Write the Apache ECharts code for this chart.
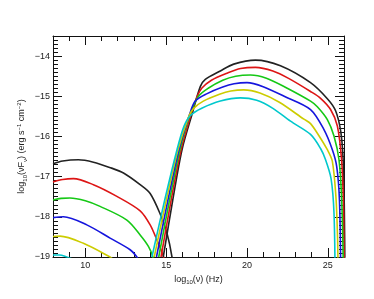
<!DOCTYPE html>
<html>
<head>
<meta charset="utf-8">
<script src="https://cdn.jsdelivr.net/npm/echarts@6/dist/echarts.min.js"></script>
<style>html,body{margin:0;padding:0;background:#fff}#c{width:374px;height:299px}</style>
</head>
<body>
<div id="c"></div>
<script>
// Tick labels
const xTickValues = [10, 15, 20, 25];
const yTickValues = [-19, -18, -17, -16, -15, -14];
const seriesColors = ['#222222', '#dd1515', '#15c815', '#1515dd', '#cccc00', '#00c8cc'];

// Synchrotron components [log nu, log nuFnu]
const blackSync = [[8,-16.68],[8.6,-16.61],[9.57,-16.58],[10.5,-16.64],[11.5,-16.77],[12.36,-16.91],[13.39,-17.2],[14.01,-17.42],[14.63,-17.93],[15.05,-18.41],[15.36,-19],[15.45,-19.4]];
const redSync = [[8,-17.13],[8.6,-17.07],[9.26,-17.05],[10.5,-17.2],[11.95,-17.49],[13.39,-17.85],[14.01,-18.2],[14.43,-18.58],[14.84,-19],[14.95,-19.3]];
const greenSync = [[8,-17.58],[8.5,-17.54],[9.05,-17.53],[10.0,-17.6],[10.91,-17.74],[12.57,-18.08],[13.39,-18.45],[13.91,-18.74],[14.18,-19],[14.3,-19.3]];
const blueSync = [[8,-18.02],[8.64,-18.0],[10.09,-18.2],[11.53,-18.53],[12.77,-18.82],[13.19,-19],[13.3,-19.1]];
const yellowSync = [[8,-18.49],[8.43,-18.48],[9.88,-18.66],[11.53,-19],[11.7,-19.05]];
const cyanSync = [[8,-18.95],[8.4,-18.95],[8.85,-19.0],[9.2,-19.05]];

// Inverse-Compton components [log nu, log nuFnu]
const blackIC = [[14.82,-19],[15.4,-17.6],[15.98,-16.33],[16.6,-15.45],[17.11,-14.76],[17.42,-14.58],[18.35,-14.37],[19.18,-14.2],[20.52,-14.1],[22.07,-14.24],[23.93,-14.66],[24.97,-15.06],[25.48,-15.36],[25.8,-15.88],[25.95,-16.6],[26.02,-17.8],[26.06,-19.5]];
const redIC = [[14.68,-19],[15.3,-17.6],[15.92,-16.33],[16.5,-15.5],[16.9,-15.02],[17.2,-14.8],[17.8,-14.6],[18.8,-14.42],[19.6,-14.31],[20.52,-14.28],[21.6,-14.37],[22.6,-14.56],[23.93,-14.88],[24.55,-15.05],[25.17,-15.33],[25.59,-15.74],[25.85,-16.58],[25.96,-17.6],[26.02,-19.5]];
const greenIC = [[14.54,-19],[15.2,-17.6],[15.85,-16.33],[16.48,-15.45],[17.0,-15.0],[17.6,-14.8],[18.5,-14.6],[19.3,-14.5],[20.21,-14.47],[21.2,-14.55],[22.4,-14.78],[23.93,-15.12],[24.35,-15.26],[24.97,-15.58],[25.38,-15.99],[25.69,-16.58],[25.86,-17.6],[25.97,-19.5]];
const blueIC = [[14.4,-19],[15.1,-17.6],[15.79,-16.33],[16.45,-15.45],[16.8,-15.12],[17.5,-14.94],[18.5,-14.77],[19.2,-14.69],[20.0,-14.66],[21.0,-14.76],[22.3,-15.0],[23.93,-15.33],[24.76,-15.83],[25.28,-16.33],[25.55,-16.75],[25.72,-17.6],[25.8,-19.5]];
const yellowIC = [[14.26,-19],[15.0,-17.6],[15.73,-16.33],[16.4,-15.5],[16.7,-15.3],[17.3,-15.12],[18.3,-14.95],[19.0,-14.87],[19.8,-14.84],[20.8,-14.92],[22.0,-15.15],[23.52,-15.57],[23.93,-15.68],[24.4,-15.95],[24.97,-16.33],[25.28,-16.62],[25.5,-17.5],[25.6,-18.5],[25.64,-19.5]];
const cyanIC = [[14.12,-19],[14.9,-17.6],[15.67,-16.33],[16.1,-15.75],[16.5,-15.48],[17.2,-15.3],[18.35,-15.12],[19.59,-15.04],[20.6,-15.1],[21.6,-15.3],[22.69,-15.62],[23.93,-15.95],[24.55,-16.3],[24.86,-16.58],[25.2,-17.05],[25.38,-17.9],[25.45,-19.5]];

const syncSets = [blackSync, redSync, greenSync, blueSync, yellowSync, cyanSync];
const icSets = [blackIC, redIC, greenIC, blueIC, yellowIC, cyanIC];

const FONT = 'Liberation Sans, Arial, sans-serif';
const TXT = '#222';
const AX = '#111';
const fmtX = v => (xTickValues.indexOf(v) >= 0 ? String(v) : '');
const fmtY = v => String(v).replace('-', '\u2212');

function xAx(g, pos, major) {
  const lab = major && pos === 'bottom';
  const o = {
    gridIndex: g, type: 'value', min: 8, max: 26, position: pos,
    axisLine: { show: major, onZero: false, lineStyle: { color: AX, width: 1 } },
    axisTick: { show: true, inside: true, length: major ? 9 : 5, lineStyle: { color: AX } },
    axisLabel: lab ? { show: true, margin: 4, fontSize: 9, fontFamily: FONT, color: TXT, formatter: fmtX } : { show: false },
    splitLine: { show: false }
  };
  if (major) { o.minInterval = 5; o.maxInterval = 5; } else { o.interval = 1; }
  if (lab) {
    o.name = '{n|log}{s|10}{n|(\u03bd) (Hz)}';
    o.nameLocation = 'middle'; o.nameGap = 15;
    o.nameTextStyle = { fontFamily: FONT, color: TXT, fontSize: 9,
      rich: { n: { fontSize: 9, fontFamily: FONT, color: TXT, lineHeight: 12, verticalAlign: 'middle' },
              s: { fontSize: 6, fontFamily: FONT, color: TXT, lineHeight: 6, verticalAlign: 'bottom' } } };
  }
  return o;
}
function yAx(g, pos, major) {
  const named = major && pos === 'left';
  const o = {
    gridIndex: g, type: 'value', min: -19, max: -13.5, position: pos,
    interval: major ? 1 : 0.1,
    axisLine: { show: major, onZero: false, lineStyle: { color: AX, width: 1 } },
    axisTick: { show: true, inside: true, length: major ? 9 : 5, lineStyle: { color: AX } },
    axisLabel: { show: false },
    splitLine: { show: false }
  };
  if (named) {
    o.name = '{n|log}{s|10}{n|(\u03bdF}{s|\u03bd}{n|) (erg s}{p|\u22121}{n| cm}{p|\u22122}{n|)}';
    o.nameLocation = 'middle'; o.nameGap = 25; o.nameRotate = 90;
    o.nameTextStyle = { fontFamily: FONT, color: TXT, fontSize: 9,
      rich: { n: { fontSize: 9, fontFamily: FONT, color: TXT, lineHeight: 12, verticalAlign: 'middle' },
              s: { fontSize: 6, fontFamily: FONT, color: TXT, lineHeight: 6, verticalAlign: 'bottom' },
              p: { fontSize: 6, fontFamily: FONT, color: TXT, lineHeight: 6, verticalAlign: 'top' } } };
  }
  return o;
}

const series = [];
syncSets.forEach((d, i) => series.push({ type: 'line', data: d, xAxisIndex: 0, yAxisIndex: 0, showSymbol: false, smooth: 0.3, clip: true, lineStyle: { color: seriesColors[i], width: 1.6 }, silent: true, animation: false }));
icSets.forEach((d, i) => series.push({ type: 'line', data: d, xAxisIndex: 0, yAxisIndex: 0, showSymbol: false, smooth: 0.3, clip: true, lineStyle: { color: seriesColors[i], width: 1.6 }, silent: true, animation: false }));

const gridRect = { left: 53, right: 30, top: 36, bottom: 42 };
const chart = echarts.init(document.getElementById('c'), null, { renderer: 'canvas' });
chart.setOption({
  animation: false,
  backgroundColor: '#fff',
  grid: [Object.assign({}, gridRect), Object.assign({}, gridRect), Object.assign({}, gridRect), Object.assign({}, gridRect)],
  xAxis: [xAx(0, 'bottom', true), xAx(1, 'bottom', false), xAx(2, 'top', true), xAx(3, 'top', false)],
  yAxis: [yAx(0, 'left', true), yAx(1, 'left', false), yAx(2, 'right', true), yAx(3, 'right', false)],
  series: series
});

// Y tick labels as text placed through the y axis scale
const yAxisLeftPx = chart.convertToPixel({ xAxisIndex: 0 }, 8);
chart.setOption({
  graphic: yTickValues.map(v => ({
    type: 'text', silent: true,
    x: yAxisLeftPx - 3,
    y: chart.convertToPixel({ yAxisIndex: 0 }, v),
    style: { text: fmtY(v), fill: TXT, font: '9px ' + FONT, textAlign: 'right', textVerticalAlign: 'middle' }
  }))
});
</script>
</body>
</html>
